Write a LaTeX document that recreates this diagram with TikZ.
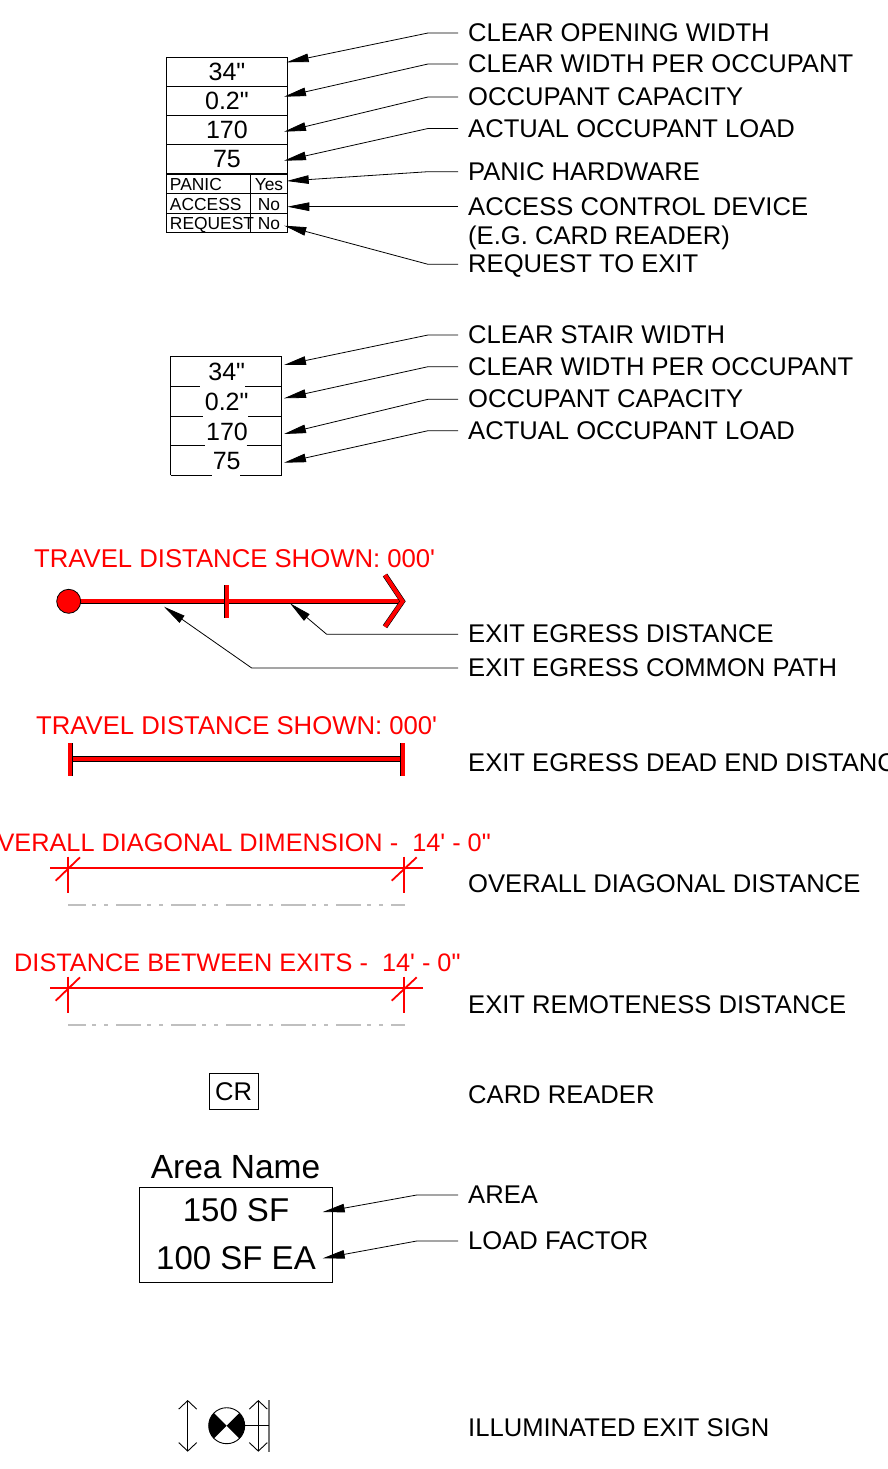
\documentclass[tikz,border=0pt]{standalone}
\usepackage{fontspec}
\setmainfont{Liberation Sans}[Ligatures=TeXOff]
\usetikzlibrary{arrows.meta,calc}
\hfuzz=50pt
\newcommand{\fsz}[1]{\fontsize{#1pt}{#1pt}\selectfont}
\tikzset{
  x=1pt,y=-1pt,
  lbl/.style={anchor=base west,inner xsep=10pt,inner ysep=0pt,text height=17pt,text depth=0pt,font=\fsz{25.6}},
  lead/.style={line width=.8pt,-{Triangle[length=22pt,width=8.5pt]}},
  cell/.style={draw,line width=.9pt,anchor=north west,inner sep=0pt,text height=16.5pt,text depth=0pt,font=\fsz{25},minimum width=120.4pt,minimum height=29.3pt},
  small/.style={draw,line width=.9pt,anchor=north west,inner sep=0pt,text height=14.2pt,text depth=0pt,font=\fsz{17.4}},
  smalltxt/.style={small,minimum width=84pt,text width=77.6pt,align=left,inner xsep=3.2pt},
  num/.style={anchor=base,inner sep=0pt,font=\fsz{25}},
  redtxt/.style={anchor=base west,inner sep=0pt,text=red,font=\fsz{25.7}},
  dimtxt/.style={redtxt,font=\fsz{25.3}},
  redbar/.style={draw=black,double=red,double distance=4pt,line width=.6pt},
  redthin/.style={draw=red,line width=1.8pt},
  hidden/.style={draw=black!25,line width=1.3pt,dash pattern=on 25pt off 6pt on 4pt off 8pt on 4pt off 8pt,dash phase=7pt},
  openhead/.style={line width=.9pt,{Straight Barb[length=8.5pt,width=18pt]}-{Straight Barb[length=8.5pt,width=18pt]}}
}
\begin{document}
\begin{tikzpicture}
\useasboundingbox (0,0) rectangle (887,1469);
\clip (0,0) rectangle (887,1469);
% ---------- door table
\node[cell] (d1) at (166.3,56.7) {34"};
\node[cell] (d2) at (166.3,85.8) {0.2"};
\node[cell] (d3) at (166.3,114.9) {170};
\node[cell] (d4) at (166.3,144.2) {75};
\node[smalltxt,minimum height=20pt] (d5a) at (166.3,173.3) {PANIC};
\node[small,minimum width=36.4pt,minimum height=20pt] (d5b) at (250.3,173.3) {Yes};
\node[smalltxt,minimum height=19.4pt] (d6a) at (166.3,193.3) {ACCESS};
\node[small,minimum width=36.4pt,minimum height=19.4pt] (d6b) at (250.3,193.3) {No};
\node[smalltxt,minimum height=19.3pt] (d7a) at (166.3,212.7) {REQUEST};
\node[small,minimum width=36.4pt,minimum height=19.3pt] (d7b) at (250.3,212.7) {No};
% labels
\node[lbl] (l1) at (458,41.5) {CLEAR OPENING WIDTH};
\node[lbl] (l2) at (458,72.5) {CLEAR WIDTH PER OCCUPANT};
\node[lbl] (l3) at (458,105.5) {OCCUPANT CAPACITY};
\node[lbl] (l4) at (458,137) {ACTUAL OCCUPANT LOAD};
\node[lbl] (l5) at (458,180.2) {PANIC HARDWARE};
\node[lbl] (l6) at (458,215.2) {ACCESS CONTROL DEVICE};
\node[lbl] (l6b) at (458,244.5) {(E.G. CARD READER)};
\node[lbl] (l7) at (458,272.8) {REQUEST TO EXIT};
\coordinate (t1) at (286.7,62.3);
\coordinate (t2) at (284,96.7);
\coordinate (t3) at (284,131.7);
\coordinate (t4) at (284,160.7);
\coordinate (t5) at (286.7,181);
\coordinate (t6) at (287.3,206.7);
\coordinate (t7) at (284.3,225.7);
\draw[lead] (l1.west) -- ++(-30,0) -- (t1);
\draw[lead] (l2.west) -- ++(-30,0) -- (t2);
\draw[lead] (l3.west) -- ++(-30,0) -- (t3);
\draw[lead] (l4.west) -- ++(-30,0) -- (t4);
\draw[lead] (l5.west) -- ++(-30,0) -- (t5);
\draw[lead] (l6.west) -- (t6);
\draw[lead] (l7.west) -- ++(-30,0) -- (t7);
% ---------- stair table
\draw[line width=.9pt] (170.7,475) -- (170.7,356.7) -- (281.7,356.7) -- (281.7,475);
\draw[line width=.9pt] (170.7,386.3) -- (200,386.3) (245,386.3) -- (281.7,386.3);
\draw[line width=.9pt] (170.7,416) -- (203.3,416) (248.3,416) -- (281.7,416);
\draw[line width=.9pt] (170.7,445.7) -- (205,445.7) (246.7,445.7) -- (281.7,445.7);
\draw[line width=.9pt] (170.7,475) -- (211.7,475) (240,475) -- (281.7,475);
\node[num] (s1) at (226.7,380) {34"};
\node[num] (s2) at (226.7,410.3) {0.2"};
\node[num] (s3) at (227,440) {170};
\node[num] (s4) at (226.7,469) {75};
\node[lbl] (m1) at (458,343.5) {CLEAR STAIR WIDTH};
\node[lbl] (m2) at (458,375.2) {CLEAR WIDTH PER OCCUPANT};
\node[lbl] (m3) at (458,407.8) {OCCUPANT CAPACITY};
\node[lbl] (m4) at (458,439.2) {ACTUAL OCCUPANT LOAD};
\coordinate (u1) at (284,365);
\coordinate (u2) at (284,398.3);
\coordinate (u3) at (284,434);
\coordinate (u4) at (284,462.7);
\draw[lead] (m1.west) -- ++(-30,0) -- (u1);
\draw[lead] (m2.west) -- ++(-30,0) -- (u2);
\draw[lead] (m3.west) -- ++(-30,0) -- (u3);
\draw[lead] (m4.west) -- ++(-30,0) -- (u4);
% ---------- travel distance
\node[redtxt] (tr1) at (34,567.3) {TRAVEL DISTANCE SHOWN: 000'};
\draw[redbar] (68,601.3) -- (402,601.3);
\draw[redbar] (226.7,585) -- (226.7,617.7);
\draw[redbar,line join=miter] (385,575) -- (402.5,601.3) -- (385,626.7);
\node[circle,draw=black,fill=red,line width=.8pt,minimum size=24pt,inner sep=0pt] (start) at (68.7,601.3) {};
\node[lbl] (n1) at (458,642.8) {EXIT EGRESS DISTANCE};
\node[lbl] (n2) at (458,676.5) {EXIT EGRESS COMMON PATH};
\coordinate (v1) at (290,603.3);
\coordinate (v2) at (164,606.7);
\draw[lead] (n1.west) -- (326.7,634.3) -- (v1);
\draw[lead] (n2.west) -- (251.7,668) -- (v2);
% ---------- dead end
\node[redtxt] (tr2) at (36,734) {TRAVEL DISTANCE SHOWN: 000'};
\draw[redbar] (70.3,759) -- (402.7,759);
\draw[redbar] (70.3,743.3) -- (70.3,775.7);
\draw[redbar] (402.7,743.3) -- (402.7,775.7);
\node[lbl] (n3) at (458,771.5) {EXIT EGRESS DEAD END DISTANCE};
% ---------- overall diagonal
\node[dimtxt,anchor=base east] (od) at (491,851) {OVERALL DIAGONAL DIMENSION -\ \ 14' - 0"};
\draw[redthin] (50,867.7) -- (422.7,867.7);
\draw[redthin] (68.3,856.7) -- (68.3,893.3);
\draw[redthin] (404.3,856.7) -- (404.3,893.3);
\draw[redthin] (55.7,880.7) -- (80,857.3);
\draw[redthin] (391.7,880.7) -- (416.7,857.3);
\draw[hidden] (68.3,905) -- (405,905);
\node[lbl] (n4) at (458,892.5) {OVERALL DIAGONAL DISTANCE};
% ---------- between exits
\node[dimtxt] (be) at (14,971) {DISTANCE BETWEEN EXITS -\ \ 14' - 0"};
\draw[redthin] (50,987.7) -- (422.7,987.7);
\draw[redthin] (68.3,976.7) -- (68.3,1013.3);
\draw[redthin] (404.3,976.7) -- (404.3,1013.3);
\draw[redthin] (55.7,1000.7) -- (80,977.3);
\draw[redthin] (391.7,1000.7) -- (416.7,977.3);
\draw[hidden] (68.3,1025) -- (405,1025);
\node[lbl] (n5) at (458,1013.5) {EXIT REMOTENESS DISTANCE};
% ---------- card reader
\node[draw,line width=.9pt,minimum width=48.7pt,minimum height=36.4pt,inner sep=0pt,text height=17pt,text depth=0pt,font=\fsz{25.6}] (cr) at (233.7,1091.5) {CR};
\node[lbl] (n6) at (458,1103) {CARD READER};
% ---------- area
\node[anchor=base,inner sep=0pt,font=\fsz{33.5}] (an) at (235.5,1178) {Area Name};
\node[draw,line width=.9pt,anchor=north west,minimum width=192.4pt,minimum height=95.6pt] (ab) at (139.3,1186.7) {};
\node[anchor=base,inner sep=0pt,font=\fsz{33}] (a1) at (236,1221) {150 SF};
\node[anchor=base,inner sep=0pt,font=\fsz{33}] (a2) at (236,1269.3) {100 SF EA};
\node[lbl] (n7) at (458,1203.5) {AREA};
\node[lbl] (n8) at (458,1249.5) {LOAD FACTOR};
\coordinate (w1) at (322.7,1212);
\coordinate (w2) at (322.7,1258.3);
\draw[lead] (n7.west) -- (416.7,1195) -- (w1);
\draw[lead] (n8.west) -- (416.7,1241) -- (w2);
% ---------- exit sign
\node[circle,draw=black,line width=.9pt,minimum size=36pt,inner sep=0pt] (sign) at (226.7,1425.7) {};
\fill ($(sign.center)+(135:18)$) arc[start angle=135,end angle=225,radius=18] -- (sign.center) -- cycle;
\fill ($(sign.center)+(-45:18)$) arc[start angle=-45,end angle=45,radius=18] -- (sign.center) -- cycle;
\coordinate (sa) at (187.7,1400);
\coordinate (sb) at (187.7,1451.7);
\coordinate (sc) at (258.3,1400);
\coordinate (sd) at (258.3,1451.7);
\coordinate (se) at (269,1400);
\coordinate (sf) at (269,1451.7);
\draw[openhead] (sa) -- (sb);
\draw[openhead] (sc) -- (sd);
\draw[draw=black!55,line width=1.4pt] (se) -- (sf);
\draw[line width=.9pt] (sign.east) -- (269,1425.7);
\node[lbl] (n9) at (458,1436.5) {ILLUMINATED EXIT SIGN};
\end{tikzpicture}
\end{document}
